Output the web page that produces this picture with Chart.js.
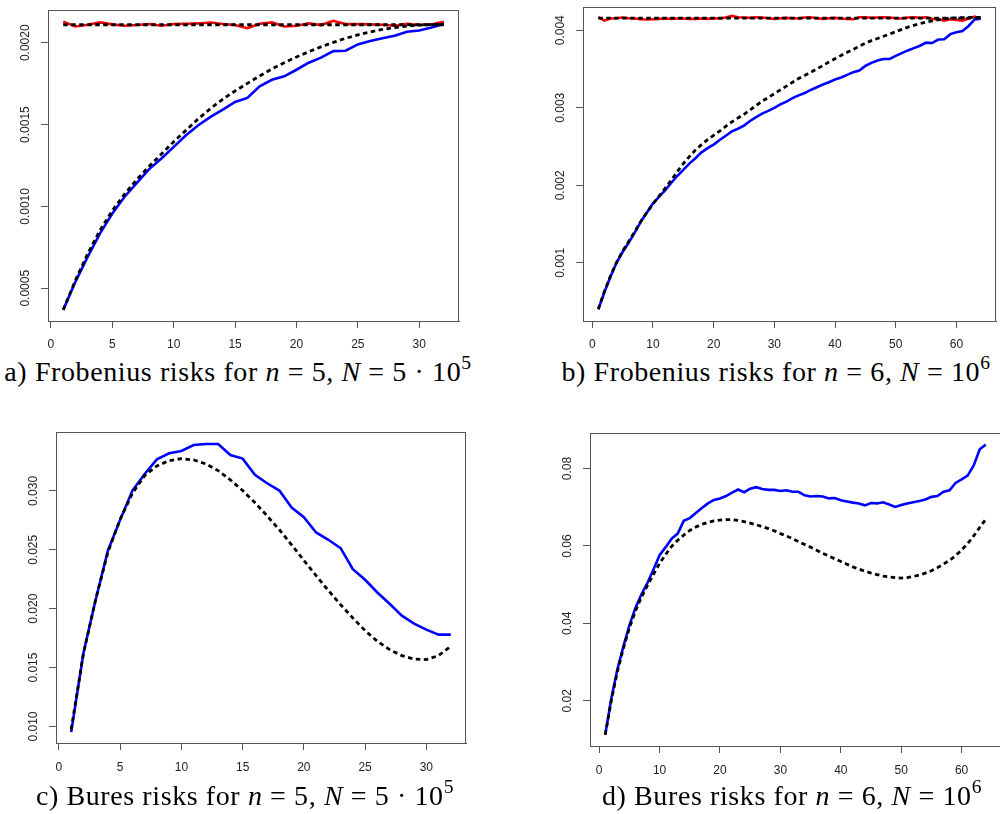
<!DOCTYPE html>
<html>
<head>
<meta charset="utf-8">
<script src="https://cdn.jsdelivr.net/npm/chart.js@4.4.1/dist/chart.umd.min.js"></script>
<style>
  html, body { margin: 0; padding: 0; overflow: hidden; background: #fff; }
  body { position: relative; width: 1000px; height: 814px; }
  canvas { position: absolute; }
  .cap {
    position: absolute;
    font-family: "Liberation Serif", "Times New Roman", serif;
    font-size: 28px;
    line-height: 28px;
    letter-spacing: 0.6px;
    white-space: nowrap;
    color: #000;
    transform: translateX(-50%);
  }
  .cap i { font-style: italic; }
  .cap sup { font-size: 0.7em; position: relative; top: -0.1em; line-height: 0; vertical-align: super; }
</style>
</head>
<body>
<canvas id="chartA" width="500" height="350" style="left:0;top:0"></canvas>
<canvas id="chartB" width="500" height="350" style="left:500px;top:0"></canvas>
<canvas id="chartC" width="500" height="380" style="left:0;top:400px"></canvas>
<canvas id="chartD" width="505" height="380" style="left:500px;top:400px"></canvas>

<div class="cap" style="left:238px;top:358px">a) Frobenius risks for <i>n</i> = 5, <i>N</i> = 5 · 10<sup>5</sup></div>
<div class="cap" style="left:776px;top:358px">b) Frobenius risks for <i>n</i> = 6, <i>N</i> = 10<sup>6</sup></div>
<div class="cap" style="left:245px;top:782px">c) Bures risks for <i>n</i> = 5, <i>N</i> = 5 · 10<sup>5</sup></div>
<div class="cap" style="left:792px;top:782px">d) Bures risks for <i>n</i> = 6, <i>N</i> = 10<sup>6</sup></div>

<script>
"use strict";

// dimensions on the x axis
const dimsA = [1, 2, 3, 4, 5, 6, 7, 8, 9, 10, 11, 12, 13, 14, 15, 16,
  17, 18, 19, 20, 21, 22, 23, 24, 25, 26, 27, 28, 29, 30, 31, 32];
const dimsB = [1, 2, 3, 4, 5, 6, 7, 8, 9, 10, 11, 12, 13, 14, 15, 16,
  17, 18, 19, 20, 21, 22, 23, 24, 25, 26, 27, 28, 29, 30, 31, 32,
  33, 34, 35, 36, 37, 38, 39, 40, 41, 42, 43, 44, 45, 46, 47, 48,
  49, 50, 51, 52, 53, 54, 55, 56, 57, 58, 59, 60, 61, 62, 63, 64];

// a) Frobenius, n = 5
const frobSimA = [0.000368, 0.000541, 0.000693, 0.000835, 0.000957, 0.001059, 0.001144, 0.001228,
  0.001293, 0.001364, 0.001435, 0.001496, 0.001547, 0.001591, 0.001638, 0.001663,
  0.001734, 0.001774, 0.001795, 0.001835, 0.001878, 0.001909, 0.001949, 0.001951,
  0.001990, 0.002010, 0.002028, 0.002043, 0.002067, 0.002075, 0.002093, 0.002115];
const frobTheoryA = [0.000368, 0.000550, 0.000712, 0.000855, 0.000975, 0.001075, 0.001165, 0.001245,
  0.001320, 0.001395, 0.001465, 0.001535, 0.001598, 0.001655, 0.001705, 0.001752,
  0.001797, 0.001840, 0.001878, 0.001913, 0.001945, 0.001975, 0.002002, 0.002027,
  0.002048, 0.002066, 0.002081, 0.002093, 0.002102, 0.002108, 0.002111, 0.002112];
const frobRedA = [0.002128, 0.002099, 0.002110, 0.002124, 0.002112, 0.002104, 0.002108, 0.002114,
  0.002104, 0.002114, 0.002116, 0.002118, 0.002124, 0.002114, 0.002108, 0.002089,
  0.002116, 0.002124, 0.002099, 0.002104, 0.002118, 0.002108, 0.002134, 0.002114,
  0.002114, 0.002112, 0.002110, 0.002104, 0.002116, 0.002108, 0.002112, 0.002128];
const frobFlatA = 0.00211;

// b) Frobenius, n = 6
const frobSimB = [0.000401, 0.000620, 0.000820, 0.001000, 0.001140, 0.001260, 0.001390, 0.001530,
  0.001650, 0.001765, 0.001850, 0.001935, 0.002030, 0.002120, 0.002200, 0.002280,
  0.002350, 0.002425, 0.002480, 0.002525, 0.002585, 0.002640, 0.002695, 0.002730,
  0.002770, 0.002830, 0.002880, 0.002925, 0.002960, 0.003000, 0.003045, 0.003080,
  0.003125, 0.003160, 0.003190, 0.003230, 0.003265, 0.003300, 0.003330, 0.003365,
  0.003390, 0.003425, 0.003460, 0.003480, 0.003540, 0.003580, 0.003610, 0.003630,
  0.003630, 0.003670, 0.003705, 0.003740, 0.003770, 0.003800, 0.003840, 0.003835,
  0.003880, 0.003885, 0.003950, 0.003975, 0.003990, 0.004055, 0.004140, 0.004150];
const frobTheoryB = [0.000401, 0.000630, 0.000830, 0.001005, 0.001150, 0.001275, 0.001400, 0.001535,
  0.001650, 0.001760, 0.001860, 0.001960, 0.002065, 0.002175, 0.002280, 0.002370,
  0.002455, 0.002525, 0.002590, 0.002645, 0.002700, 0.002760, 0.002818, 0.002868,
  0.002916, 0.002970, 0.003030, 0.003085, 0.003133, 0.003182, 0.003231, 0.003280,
  0.003330, 0.003378, 0.003418, 0.003458, 0.003500, 0.003546, 0.003590, 0.003633,
  0.003676, 0.003715, 0.003754, 0.003794, 0.003833, 0.003866, 0.003894, 0.003922,
  0.003952, 0.003982, 0.004011, 0.004040, 0.004064, 0.004086, 0.004104, 0.004120,
  0.004134, 0.004147, 0.004155, 0.004160, 0.004163, 0.004165, 0.004165, 0.004165];
const frobRedB = [0.004168, 0.004125, 0.004151, 0.004155, 0.004164, 0.004155, 0.004151, 0.004142,
  0.004138, 0.004142, 0.004147, 0.004151, 0.004147, 0.004151, 0.004151, 0.004147,
  0.004147, 0.004151, 0.004147, 0.004155, 0.004151, 0.004164, 0.004185, 0.004168,
  0.004164, 0.004160, 0.004168, 0.004164, 0.004155, 0.004147, 0.004155, 0.004160,
  0.004155, 0.004151, 0.004164, 0.004168, 0.004155, 0.004147, 0.004155, 0.004160,
  0.004151, 0.004147, 0.004142, 0.004168, 0.004168, 0.004160, 0.004164, 0.004168,
  0.004164, 0.004155, 0.004151, 0.004164, 0.004168, 0.004160, 0.004168, 0.004147,
  0.004142, 0.004125, 0.004142, 0.004134, 0.004125, 0.004151, 0.004177, 0.004147];
const frobFlatB = 0.004157;

// c) Bures, n = 5
const buresSimC = [0.00952, 0.01624, 0.02076, 0.02494, 0.02754, 0.03003, 0.03144, 0.03268,
  0.03319, 0.03339, 0.03390, 0.03398, 0.03398, 0.03305, 0.03274, 0.03136,
  0.03065, 0.03003, 0.02859, 0.02777, 0.02647, 0.02585, 0.02514, 0.02336,
  0.02246, 0.02138, 0.02042, 0.01941, 0.01873, 0.01822, 0.01780, 0.01780];
const buresTheoryC = [0.00975, 0.01620, 0.02080, 0.02480, 0.02760, 0.02980, 0.03130, 0.03212,
  0.03257, 0.03274, 0.03263, 0.03229, 0.03172, 0.03093, 0.03003, 0.02901,
  0.02788, 0.02670, 0.02542, 0.02410, 0.02280, 0.02155, 0.02034, 0.01921,
  0.01814, 0.01723, 0.01653, 0.01602, 0.01573, 0.01568, 0.01602, 0.01681];

// d) Bures, n = 6
const buresSimD = [0.0112, 0.0205, 0.0280, 0.0340, 0.0395, 0.0440, 0.0475, 0.0505,
  0.0540, 0.0576, 0.0597, 0.0619, 0.0632, 0.0665, 0.0672, 0.0685,
  0.0698, 0.0710, 0.0719, 0.0723, 0.0729, 0.0738, 0.0746, 0.0739,
  0.0748, 0.0752, 0.0747, 0.0745, 0.0745, 0.0742, 0.0744, 0.0740,
  0.0740, 0.0731, 0.0728, 0.0729, 0.0728, 0.0723, 0.0724, 0.0718,
  0.0715, 0.0712, 0.0710, 0.0705, 0.0711, 0.0710, 0.0713, 0.0707,
  0.0701, 0.0706, 0.0710, 0.0713, 0.0716, 0.0720, 0.0727, 0.0729,
  0.0740, 0.0744, 0.0763, 0.0772, 0.0782, 0.0808, 0.0850, 0.0862];
const buresTheoryD = [0.0112, 0.0200, 0.0275, 0.0335, 0.0388, 0.0432, 0.0468, 0.0498,
  0.0527, 0.0555, 0.0578, 0.0599, 0.0615, 0.0628, 0.0640, 0.0649,
  0.0656, 0.0661, 0.0665, 0.0667, 0.0668, 0.0668, 0.0666, 0.0663,
  0.0659, 0.0655, 0.0650, 0.0645, 0.0639, 0.0632, 0.0626, 0.0619,
  0.0611, 0.0604, 0.0597, 0.0589, 0.0581, 0.0574, 0.0567, 0.0560,
  0.0553, 0.0546, 0.0540, 0.0535, 0.0530, 0.0526, 0.0522, 0.0520,
  0.0518, 0.0517, 0.0518, 0.0521, 0.0525, 0.0530, 0.0536, 0.0544,
  0.0553, 0.0563, 0.0575, 0.0590, 0.0606, 0.0626, 0.0648, 0.0669];

// tick labels
const xTicks32 = [0, 5, 10, 15, 20, 25, 30];
const xTicks64 = [0, 10, 20, 30, 40, 50, 60];
const yTicksA = [0.0005, 0.0010, 0.0015, 0.0020];
const yTicksB = [0.001, 0.002, 0.003, 0.004];
const yTicksC = [0.010, 0.015, 0.020, 0.025, 0.030];
const yTicksD = [0.02, 0.04, 0.06, 0.08];

const axisColor = "#555555";
const labelColor = "#222222";
const sansFamily = '"Liberation Sans", Arial, Helvetica, sans-serif';

function toPoints(xs, ys) {
  return ys.map(function (v, i) { return { x: xs[i], y: v }; });
}

function flatLine(xs, v) {
  return [{ x: xs[0], y: v }, { x: xs[xs.length - 1], y: v }];
}

function solid(data, color) {
  return { data: data, borderColor: color, borderWidth: 2.6, order: 2 };
}

function dashed(data) {
  return { data: data, borderColor: "#000000", borderWidth: 2.8, borderDash: [4.5, 3.5], order: 1 };
}

// R-style box plus vertical y tick labels
const rBoxPlugin = {
  id: "rBox",
  afterDraw(chart, args, opts) {
    const ctx = chart.ctx;
    const a = chart.chartArea;
    ctx.save();
    ctx.strokeStyle = axisColor;
    ctx.lineWidth = 1;
    ctx.strokeRect(Math.round(a.left) + 0.5, Math.round(a.top) + 0.5,
      Math.round(a.right - a.left) - 1, Math.round(a.bottom - a.top));
    const ys = chart.scales.y;
    ctx.font = "12px " + sansFamily;
    ctx.fillStyle = labelColor;
    ctx.textAlign = "center";
    ctx.textBaseline = "middle";
    ys.ticks.forEach(function (t) {
      const py = ys.getPixelForValue(t.value);
      ctx.save();
      ctx.translate(a.left - 22.5, py);
      ctx.rotate(-Math.PI / 2);
      ctx.fillText(t.value.toFixed(opts.digits), 0, 0);
      ctx.restore();
    });
    ctx.restore();
  }
};

function makePanel(id, p, datasets) {
  return new Chart(document.getElementById(id), {
    type: "line",
    data: { datasets: datasets },
    options: {
      responsive: false,
      animation: false,
      devicePixelRatio: 1,
      layout: { padding: { left: 0, top: p.top, right: p.right, bottom: 0 } },
      elements: { point: { radius: 0 }, line: { tension: 0, borderCapStyle: "butt" } },
      plugins: { legend: { display: false }, tooltip: { enabled: false }, rBox: { digits: p.digits } },
      scales: {
        x: {
          type: "linear",
          min: p.xMin,
          max: p.xMax,
          afterBuildTicks: function (s) { s.ticks = p.xTicks.map(function (v) { return { value: v }; }); },
          afterFit: function (s) { s.height = p.xHeight; },
          grid: { drawOnChartArea: false, drawTicks: true, tickLength: 7, color: axisColor },
          border: { display: true, color: axisColor },
          ticks: {
            autoSkip: false, maxRotation: 0, padding: p.xPad, color: labelColor,
            font: { family: sansFamily, size: 12 },
            callback: function (v) { return String(v); }
          }
        },
        y: {
          type: "linear",
          min: p.yMin,
          max: p.yMax,
          afterBuildTicks: function (s) { s.ticks = p.yTicks.map(function (v) { return { value: v }; }); },
          afterFit: function (s) { s.width = p.yWidth; },
          grid: { drawOnChartArea: false, drawTicks: true, tickLength: 7, color: axisColor },
          border: { display: true, color: axisColor },
          ticks: { display: false }
        }
      }
    },
    plugins: [rBoxPlugin]
  });
}

makePanel("chartA", {
  top: 10, right: 41, yWidth: 48, xHeight: 29, xPad: 9.5,
  xMin: -0.24, xMax: 33.24, yMin: 0.0003, yMax: 0.0022,
  xTicks: xTicks32, yTicks: yTicksA, digits: 4
}, [
  dashed(toPoints(dimsA, frobTheoryA)),
  dashed(flatLine(dimsA, frobFlatA)),
  solid(toPoints(dimsA, frobSimA), "#0000ff"),
  solid(toPoints(dimsA, frobRedA), "#ff0000")
]);

makePanel("chartB", {
  top: 7, right: 4, yWidth: 83, xHeight: 29, xPad: 9.5,
  xMin: -1.52, xMax: 66.52, yMin: 0.00025, yMax: 0.0043,
  xTicks: xTicks64, yTicks: yTicksB, digits: 3
}, [
  dashed(toPoints(dimsB, frobTheoryB)),
  dashed(flatLine(dimsB, frobFlatB)),
  solid(toPoints(dimsB, frobSimB), "#0000ff"),
  solid(toPoints(dimsB, frobRedB), "#ff0000")
]);

makePanel("chartC", {
  top: 32, right: 34, yWidth: 56, xHeight: 37, xPad: 10,
  xMin: -0.24, xMax: 33.24, yMin: 0.0086, yMax: 0.035,
  xTicks: xTicks32, yTicks: yTicksC, digits: 3
}, [
  dashed(toPoints(dimsA, buresTheoryC)),
  solid(toPoints(dimsA, buresSimC), "#0000ff")
]);

makePanel("chartD", {
  top: 33, right: 4, yWidth: 90, xHeight: 34, xPad: 10,
  xMin: -1.52, xMax: 66.52, yMin: 0.0083, yMax: 0.0892,
  xTicks: xTicks64, yTicks: yTicksD, digits: 2
}, [
  dashed(toPoints(dimsB, buresTheoryD)),
  solid(toPoints(dimsB, buresSimD), "#0000ff")
]);
</script>
</body>
</html>
